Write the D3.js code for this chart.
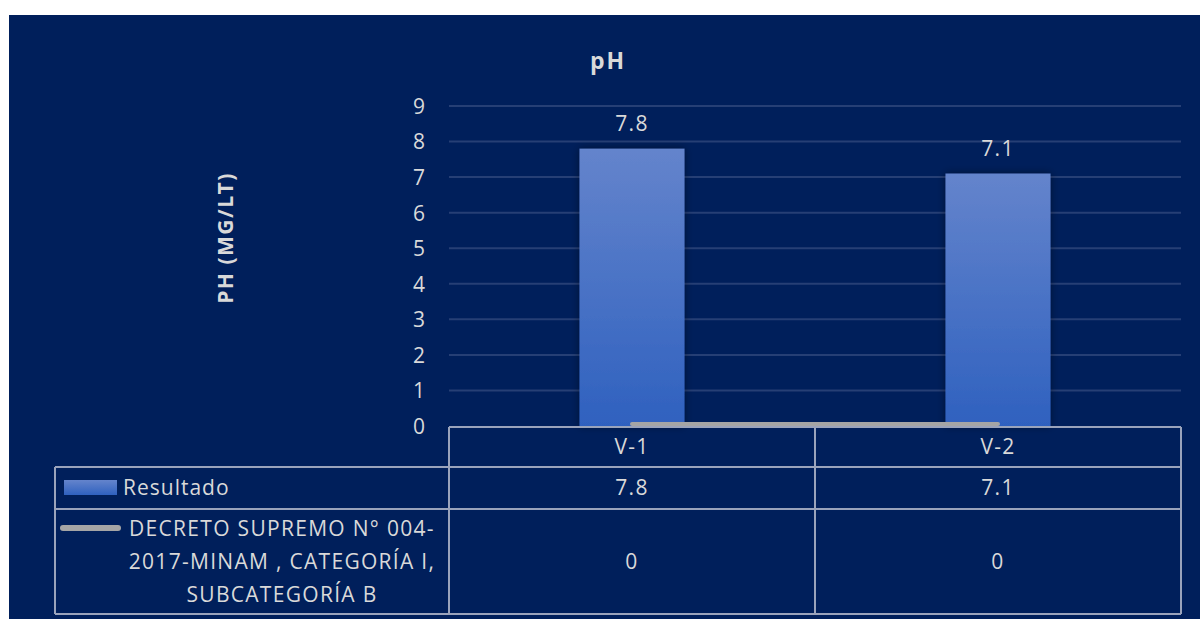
<!DOCTYPE html>
<html>
<head>
<meta charset="utf-8">
<script src="https://cdn.jsdelivr.net/npm/d3@7"></script>
<style>
  html, body { margin: 0; padding: 0; background: #ffffff; }
  svg { display: block; }
  text { font-family: "Open Sans", "Noto Sans", sans-serif; fill: #d9d9d9; }
</style>
</head>
<body>
<svg id="chart" width="1200" height="619"></svg>
<script>
// pH results per sampling point, with the regulatory reference series
const categories = ["V-1", "V-2"];
const resultado = [7.8, 7.1];
const decreto = [0, 0];
const yTicks = [0, 1, 2, 3, 4, 5, 6, 7, 8, 9];
const seriesNames = ["Resultado", "DECRETO SUPREMO N° 004-2017-MINAM , CATEGORÍA I, SUBCATEGORÍA B"];
const decretoLines = ["DECRETO SUPREMO N° 004-", "2017-MINAM , CATEGORÍA I,", "SUBCATEGORÍA B"];
const chartTitle = "pH";
const yTitle = "PH (MG/LT)";

const svg = d3.select("#chart");
const W = 1200, H = 619;
const FS = 21, LS = 1.3;

// dark panel background
svg.append("rect").attr("x", 9).attr("y", 15).attr("width", W - 9).attr("height", H - 15)
  .attr("fill", "#001f5b");

const defs = svg.append("defs");
const grad = defs.append("linearGradient").attr("id", "barGrad")
  .attr("x1", 0).attr("y1", 0).attr("x2", 0).attr("y2", 1);
grad.append("stop").attr("offset", "0%").attr("stop-color", "#6484cc");
grad.append("stop").attr("offset", "100%").attr("stop-color", "#2f61bf");
const shadow = defs.append("filter").attr("id", "barShadow")
  .attr("x", "-20%").attr("y", "-10%").attr("width", "140%").attr("height", "120%");
shadow.append("feDropShadow").attr("dx", 0).attr("dy", 0).attr("stdDeviation", 4)
  .attr("flood-color", "#000000").attr("flood-opacity", 0.45);

const plot = { left: 449, right: 1181, top: 106, bottom: 426 };
const x = d3.scaleBand().domain(categories).range([plot.left, plot.right]).paddingInner(0).paddingOuter(0);
const y = d3.scaleLinear().domain([0, 9]).range([plot.bottom, plot.top]);

// gridlines
svg.append("g").selectAll("line").data(yTicks.filter(d => d > 0)).join("line")
  .attr("x1", plot.left).attr("x2", plot.right)
  .attr("y1", d => y(d)).attr("y2", d => y(d))
  .attr("stroke", "#263f75").attr("stroke-width", 2);

// y axis labels
const yAxis = d3.axisLeft(y).tickValues(yTicks).tickSize(0).tickPadding(0).tickFormat(d3.format("d"));
const yg = svg.append("g").attr("transform", `translate(${plot.left - 24},0)`).call(yAxis);
yg.select(".domain").remove();
yg.selectAll("text").attr("font-size", FS).attr("fill", "#d9d9d9")
  .attr("font-family", "'Open Sans', sans-serif").attr("dy", "0.35em");

// bars
const barW = 105;
svg.append("g").selectAll("rect").data(resultado).join("rect")
  .attr("x", (d, i) => x(categories[i]) + x.bandwidth() / 2 - barW / 2)
  .attr("y", d => y(d))
  .attr("width", barW)
  .attr("height", d => y(0) - y(d))
  .attr("fill", "url(#barGrad)")
  .attr("filter", "url(#barShadow)");

// value labels above the bars
svg.append("g").selectAll("text").data(resultado).join("text")
  .attr("x", (d, i) => x(categories[i]) + x.bandwidth() / 2)
  .attr("y", d => y(d) - 18)
  .attr("text-anchor", "middle").attr("font-size", FS).attr("letter-spacing", LS)
  .text(d => d3.format(".1f")(d));

// reference line series
const line = d3.line().x((d, i) => x(categories[i]) + x.bandwidth() / 2).y(d => y(d) - 2);
svg.append("path").datum(decreto).attr("d", line)
  .attr("fill", "none").attr("stroke", "#a5a5a5").attr("stroke-width", 4)
  .attr("stroke-linecap", "round");

// data table
const tableLeft = 55;
const rows = { top: 427, r1: 467, r2: 509, bottom: 614 };
const tStroke = "#9aa3bb";
const tg = svg.append("g").attr("fill", "none").attr("stroke", tStroke).attr("stroke-width", 2);
tg.append("line").attr("x1", plot.left).attr("x2", plot.right).attr("y1", rows.top).attr("y2", rows.top);
tg.append("line").attr("x1", tableLeft).attr("x2", plot.right).attr("y1", rows.r1).attr("y2", rows.r1);
tg.append("line").attr("x1", tableLeft).attr("x2", plot.right).attr("y1", rows.r2).attr("y2", rows.r2);
tg.append("line").attr("x1", tableLeft).attr("x2", plot.right).attr("y1", rows.bottom).attr("y2", rows.bottom);
tg.append("line").attr("x1", tableLeft).attr("x2", tableLeft).attr("y1", rows.r1).attr("y2", rows.bottom);
[plot.left, ...categories.map(c => x(c) + x.bandwidth())].forEach(xv => {
  tg.append("line").attr("x1", xv).attr("x2", xv).attr("y1", rows.top).attr("y2", rows.bottom);
});

const cellText = (txt, cx, cy) => svg.append("text").attr("x", cx).attr("y", cy)
  .attr("text-anchor", "middle").attr("dy", "0.35em").attr("font-size", FS)
  .attr("letter-spacing", LS).text(txt);
categories.forEach((c, i) => {
  const cx = x(c) + x.bandwidth() / 2;
  cellText(c, cx, (rows.top + rows.r1) / 2);
  cellText(d3.format(".1f")(resultado[i]), cx, (rows.r1 + rows.r2) / 2);
  cellText(d3.format("d")(decreto[i]), cx, (rows.r2 + rows.bottom) / 2);
});

// legend keys inside the table
svg.append("rect").attr("x", 64).attr("y", 480).attr("width", 53).attr("height", 15)
  .attr("fill", "url(#barGrad)");
svg.append("text").attr("x", 123).attr("y", 495)
  .attr("font-size", FS).attr("letter-spacing", LS - 0.3).text(seriesNames[0]);
svg.append("line").attr("x1", 63).attr("x2", 118).attr("y1", 528).attr("y2", 528)
  .attr("stroke", "#a5a5a5").attr("stroke-width", 6).attr("stroke-linecap", "round");
const dt = svg.append("text").attr("text-anchor", "middle").attr("font-size", FS)
  .attr("letter-spacing", LS);
decretoLines.forEach((ln, i) => {
  dt.append("tspan").attr("x", 282).attr("y", 536 + i * 33).text(ln);
});

// titles
svg.append("text").attr("x", 608).attr("y", 69).attr("text-anchor", "middle")
  .attr("font-size", 23).attr("font-weight", "bold").attr("letter-spacing", 2).text(chartTitle);
svg.append("text").attr("transform", "translate(233,238) rotate(-90)")
  .attr("text-anchor", "middle").attr("font-size", 21).attr("font-weight", "bold")
  .attr("letter-spacing", 1.5).text(yTitle);
</script>
</body>
</html>
